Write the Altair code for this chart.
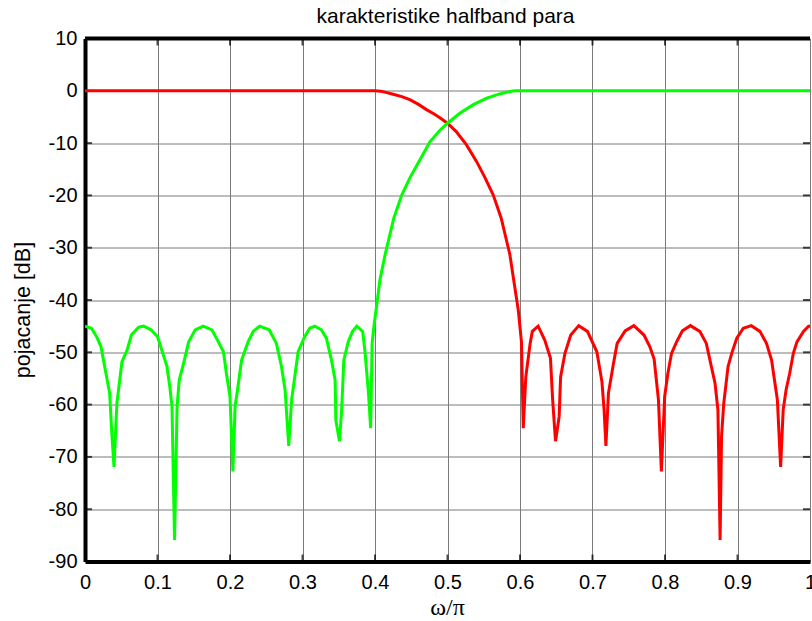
import altair as alt
import pandas as pd

# ---- tick values ----
x_ticks = [0, 0.1, 0.2, 0.3, 0.4, 0.5, 0.6, 0.7, 0.8, 0.9, 1]
y_ticks = [-90, -80, -70, -60, -50, -40, -30, -20, -10, 0, 10]

# ---- lowpass (red) ----
red_w = [0.0, 0.40, 0.408, 0.415, 0.425, 0.437, 0.448, 0.460, 0.471, 0.481, 0.490,
         0.500, 0.512, 0.526, 0.540,
         0.551, 0.563, 0.574, 0.586, 0.593, 0.5976, 0.602, 0.6045, 0.608, 0.614,
         0.617, 0.625, 0.634, 0.642, 0.645, 0.649, 0.654, 0.656, 0.662, 0.670,
         0.681, 0.693, 0.706, 0.713, 0.716, 0.7185, 0.722, 0.729, 0.734, 0.745,
         0.757, 0.771, 0.779, 0.785, 0.791, 0.795, 0.7995, 0.804, 0.809, 0.816,
         0.824, 0.835, 0.848, 0.857, 0.862, 0.869, 0.873, 0.876, 0.878, 0.881,
         0.887, 0.892, 0.899, 0.908, 0.919, 0.931, 0.940, 0.947, 0.951, 0.955,
         0.9595, 0.963, 0.967, 0.972, 0.977, 0.982, 0.991, 0.998, 1.0]
red_db = [0, 0, -0.1, -0.3, -0.65, -1.1, -1.7, -2.6, -3.6, -4.4, -5.2,
          -6.2, -7.8, -10.3, -13.5,
          -16.4, -19.9, -24.3, -31.3, -37.7, -41.9, -48, -64.5, -54.7, -48.3,
          -46, -45, -47.6, -51.1, -59, -67, -62.3, -54.7, -50.2, -46.7,
          -44.9, -46, -49.9, -55.6, -61, -67.9, -57.8, -52.1, -48.3, -45.9,
          -44.9, -46.7, -48.9, -51.3, -59.1, -72.8, -58.5, -54, -50.2, -48,
          -45.9, -44.9, -46, -48.3, -51.5, -55.9, -61, -85.9, -66.1, -59.8,
          -52.7, -50.2, -47.3, -45.4, -44.9, -46, -48.3, -51.5, -55.3, -59.1,
          -71.9, -61, -57.2, -54, -50.2, -48, -46, -45, -45]

# ---- highpass (green) ----
green_w = [0.0, 0.009, 0.016, 0.022, 0.028, 0.034, 0.037, 0.040, 0.044, 0.051,
           0.058, 0.064, 0.074, 0.081, 0.091, 0.100, 0.106, 0.113, 0.117, 0.120,
           0.1235, 0.127, 0.130, 0.136, 0.143, 0.152, 0.163, 0.175, 0.184, 0.191,
           0.195, 0.200, 0.204, 0.207, 0.211, 0.216, 0.225, 0.232, 0.241, 0.254,
           0.264, 0.271, 0.276, 0.281, 0.285, 0.290, 0.294, 0.303, 0.310, 0.317,
           0.326, 0.333, 0.340, 0.345, 0.346, 0.351, 0.354, 0.357, 0.363, 0.369,
           0.375, 0.383, 0.386, 0.391, 0.394, 0.396, 0.399, 0.403, 0.407, 0.414,
           0.426, 0.437, 0.449, 0.462, 0.476, 0.490, 0.500, 0.517, 0.535, 0.554,
           0.572, 0.582, 0.590, 0.595, 1.0]
green_db = [-45, -45.4, -47, -48.9, -53.4, -57.8, -65.5, -71.9, -59.7, -51.8,
            -49.6, -46.7, -45.2, -45, -45.7, -47, -49.6, -52.7, -56.6, -60.4,
            -85.9, -60.4, -55.3, -52.1, -48, -45.7, -45, -45.7, -48, -49.9,
            -54, -58.5, -72.8, -60.4, -56.6, -51.5, -48, -46, -45, -45.7,
            -48.3, -52.7, -57.2, -67.9, -59.1, -54, -49.9, -47, -45.4, -45,
            -45.7, -47.3, -51.5, -55.3, -63, -67, -61, -51.5, -48, -46,
            -45, -46, -49.6, -57.8, -64.5, -48.3, -44.5, -40.3, -36, -31.3,
            -24.3, -19.9, -16.4, -13.2, -9.7, -7.5, -6.2, -4.3, -2.7, -1.4,
            -0.6, -0.25, -0.05, 0, 0]

title_text = "karakteristike halfband para"
x_title = "ω/π"
y_title = "pojacanje [dB]"

df_red = pd.DataFrame({"w": red_w, "db": red_db})
df_green = pd.DataFrame({"w": green_w, "db": green_db})

xmin, xmax = x_ticks[0], x_ticks[-1]
ymin, ymax = y_ticks[0], y_ticks[-1]

x_axis = alt.Axis(values=x_ticks, title=x_title, labelExpr="'' + datum.value",
                  grid=True, gridColor="#7a7a7a", gridWidth=1, gridOpacity=1,
                  ticks=False, tickSize=0, domain=True, domainColor="black", domainWidth=4,
                  labelFont="Liberation Sans", labelFontSize=20, labelColor="black",
                  labelBaseline="alphabetic", labelPadding=27, labelFlush=False,
                  labelOverlap=False,
                  titleFont="Liberation Serif", titleFontSize=24, titleFontWeight="normal",
                  titleColor="black", titleBaseline="alphabetic", titleY=53, titleX=362)
y_axis = alt.Axis(values=y_ticks, title=y_title, labelExpr="'' + datum.value",
                  grid=True, gridColor="#7a7a7a", gridWidth=1, gridOpacity=1,
                  ticks=False, tickSize=0, domain=True, domainColor="black", domainWidth=4,
                  labelFont="Liberation Sans", labelFontSize=20, labelColor="black",
                  labelPadding=8, labelFlush=False, labelOverlap=False,
                  titleFont="Liberation Sans", titleFontSize=21.5, titleFontWeight="normal",
                  titleColor="black", titleAngle=270, titleAlign="center",
                  titleBaseline="alphabetic", titleX=-56, titleY=271)

X = alt.X("w:Q", scale=alt.Scale(domain=[xmin, xmax], nice=False, zero=False), axis=x_axis)
Y = alt.Y("db:Q", scale=alt.Scale(domain=[ymin, ymax], nice=False, zero=False), axis=y_axis)

red_line = alt.Chart(df_red).mark_line(color="#ff0000", strokeWidth=3, clip=True).encode(x=X, y=Y)
green_line = alt.Chart(df_green).mark_line(color="#00ff00", strokeWidth=3, clip=True).encode(x=X, y=Y)

# frame top border
top_df = pd.DataFrame({"w": [xmin], "w2": [xmax], "db": [ymax]})
top_rule = alt.Chart(top_df).mark_rule(color="black", strokeWidth=4).encode(
    x=X, x2="w2:Q", y=Y)

# chart title, anchored above the plot's top edge at the middle of the x range
title_df = pd.DataFrame({"w": [(xmin + xmax) / 2], "db": [ymax], "t": [title_text]})
title_mark = alt.Chart(title_df).mark_text(
    font="Liberation Sans", fontSize=21, color="black", align="center",
    baseline="alphabetic", dy=-16, dx=-2
).encode(x=X, y=Y, text="t:N")

# inward tick marks
inner_x = [v for v in x_ticks[1:-1]]
inner_y = [v for v in y_ticks[1:-1]]
bt = pd.DataFrame({"w": inner_x, "db": [ymin] * len(inner_x)})
tt = pd.DataFrame({"w": inner_x, "db": [ymax] * len(inner_x)})
lt = pd.DataFrame({"w": [xmin] * len(inner_y), "db": inner_y})
rt = pd.DataFrame({"w": [xmax] * len(inner_y), "db": inner_y})

bottom_ticks = alt.Chart(bt).mark_tick(orient="vertical", color="black", thickness=2,
                                       size=7, yOffset=-3.5).encode(x=X, y=Y)
top_ticks = alt.Chart(tt).mark_tick(orient="vertical", color="black", thickness=2,
                                    size=7, yOffset=3.5).encode(x=X, y=Y)
left_ticks = alt.Chart(lt).mark_tick(orient="horizontal", color="black", thickness=2,
                                     size=7, xOffset=3.5).encode(x=X, y=Y)
right_ticks = alt.Chart(rt).mark_tick(orient="horizontal", color="black", thickness=2,
                                      size=7, xOffset=-3.5).encode(x=X, y=Y)

chart = alt.layer(
    bottom_ticks, top_ticks, left_ticks, right_ticks, red_line, green_line, top_rule,
    title_mark
).properties(
    width=725, height=523,
    autosize=alt.AutoSizeParams(type="none"),
    padding={"left": 85, "top": 38.5, "right": 2, "bottom": 59.5},
).configure_view(stroke=None).configure(background="white")

chart.save("out.html", embed_options={"renderer": "svg", "actions": False})
